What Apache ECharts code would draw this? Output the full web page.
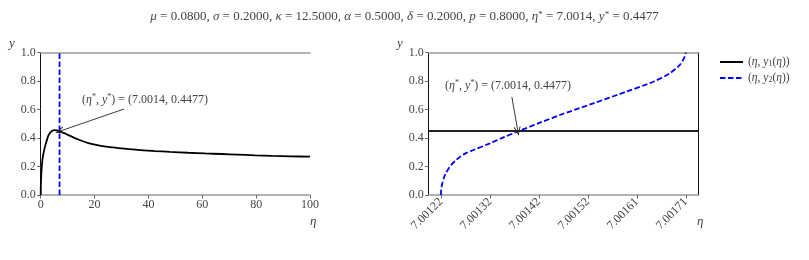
<!DOCTYPE html>
<html>
<head>
<meta charset="utf-8">
<script src="https://cdn.jsdelivr.net/npm/echarts@6/dist/echarts.min.js"></script>
<style>html,body{margin:0;padding:0;background:#fff;}#c{width:809px;height:260px;}</style>
</head>
<body>
<div id="c"></div>
<script>
// ---- data ----
const y1Eta = [0, 0.1, 0.3, 0.6, 1, 1.6, 2.2, 2.8, 3.5, 4.2, 5, 6, 7.0014, 8, 9, 11.5, 14, 17.7, 21, 25, 30, 36, 42.4, 48, 54.8, 61, 67.2, 73, 79.6, 86, 93, 100];
const y1Val = [0, 0.09, 0.17, 0.24, 0.29, 0.34, 0.38, 0.415, 0.437, 0.45, 0.456, 0.454, 0.4477, 0.44, 0.432, 0.41, 0.39, 0.365, 0.35, 0.338, 0.328, 0.317, 0.309, 0.303, 0.297, 0.292, 0.288, 0.284, 0.279, 0.275, 0.272, 0.269];
const y2Eta = [7.001222, 7.0012224, 7.0012246, 7.00123, 7.00124, 7.00125, 7.00126, 7.001272, 7.001287, 7.00132, 7.001347, 7.001377, 7.00142, 7.00146, 7.001527, 7.001593, 7.001647, 7.00168, 7.0017, 7.00171, 7.001712];
const y2Val = [0, 0.035, 0.08, 0.14, 0.2, 0.238, 0.268, 0.294, 0.316, 0.363, 0.405, 0.448, 0.508, 0.562, 0.644, 0.726, 0.796, 0.855, 0.914, 0.972, 1.0];
const etaStar = 7.001376;
const yStar = 0.4477;
const xTicks1 = [0, 20, 40, 60, 80, 100];
const yTicks = [0, 0.2, 0.4, 0.6, 0.8, 1.0];
const xTicks2 = [7.001222, 7.00132, 7.001418, 7.001516, 7.001614, 7.001712];
const xTickLabels2 = ['7.00122', '7.00132', '7.00142', '7.00152', '7.00161', '7.00171'];
const params = [['μ', '0.0800'], ['σ', '0.2000'], ['κ', '12.5000'], ['α', '0.5000'], ['δ', '0.2000'], ['p', '0.8000'], ['η*', '7.0014'], ['y*', '0.4477']];
const annTail1 = [30.9, 0.604];
const annTail2 = [7.001364, 0.689];

// ---- layout ----
const FONT = 'Liberation Serif';
const TXT = '#444';
const G1 = {left: 40.7, top: 52.7, width: 269.3, height: 142.3};
const G2 = {left: 428.7, top: 52.7, width: 269.3, height: 142.3};

const a2 = Math.min(...y2Eta), b2 = Math.max(...y2Eta);
const pad2 = 0.05 * (b2 - a2);

const y1Data = y1Eta.map((e, i) => [e, y1Val[i]]);
const y2Data = y2Eta.map((e, i) => [e, y2Val[i]]);

const titleText = params.map(p => {
  const v = p[0];
  const name = v.endsWith('*') ? '{i|' + v.slice(0, -1) + '}{sup|*}' : '{i|' + v + '}';
  return name + ' = ' + p[1];
}).join(', ');

const annText = '({i|η}{sup|*}, {i|y}{sup|*}) = (' + etaStar.toFixed(4) + ', ' + yStar.toFixed(4) + ')';
const annRich = {
  i: {fontStyle: 'italic', fontFamily: FONT, fontSize: 12, fill: TXT},
  sup: {fontFamily: FONT, fontSize: 8, fill: TXT, padding: [0, 0, 5, 0]}
};

const arrowSym = 'path://M0,10 L5,0 L10,10 L8.6,10 L5,2.8 L1.4,10 Z';

function yAxisMain(gi) {
  return {
    type: 'value', gridIndex: gi, min: 0, max: 1, interval: 0.2,
    axisLine: {show: true, lineStyle: {color: '#111', width: 1}},
    axisTick: {show: true, length: 3.5, lineStyle: {color: '#666'}},
    axisLabel: {color: TXT, fontFamily: FONT, fontSize: 12, margin: 5, formatter: v => v.toFixed(1)},
    splitLine: {show: false}
  };
}
function yAxisRight(gi) {
  return {
    type: 'value', gridIndex: gi, min: 0, max: 1, position: 'right',
    axisLine: {show: true, lineStyle: {color: '#111', width: 1}},
    axisTick: {show: false}, axisLabel: {show: false}, splitLine: {show: false}
  };
}
function xAxisTop(gi, mn, mx) {
  return {
    type: 'value', gridIndex: gi, min: mn, max: mx, position: 'top',
    axisLine: {show: true, onZero: false, lineStyle: {color: '#999', width: 1.6}},
    axisTick: {show: false}, axisLabel: {show: false}, splitLine: {show: false}
  };
}

const option = {
  animation: false,
  backgroundColor: '#fff',
  title: {
    text: titleText, left: 'center', top: 5,
    textStyle: {fontFamily: FONT, fontSize: 13, fontWeight: 'normal', color: TXT,
      rich: {i: {fontStyle: 'italic', fontFamily: FONT, fontSize: 13, color: TXT},
             sup: {fontSize: 9, fontFamily: FONT, color: TXT, padding: [0, 0, 5, 0]}}}
  },
  legend: {
    left: 714, top: 51, orient: 'vertical', itemWidth: 23, itemHeight: 10, itemGap: 4,
    data: ['y1', 'y2'],
    itemStyle: {opacity: 0},
    formatter: n => '({i|η}, {i|y}{s|' + n.slice(1) + '}({i|η}))',
    textStyle: {fontFamily: FONT, fontSize: 11.5, color: TXT,
      rich: {i: {fontStyle: 'italic', fontFamily: FONT, fontSize: 11.5, color: TXT},
             s: {fontFamily: FONT, fontSize: 8, color: TXT, padding: [4, 0, 0, 0]}}}
  },
  grid: [
    Object.assign({containLabel: false}, G1),
    Object.assign({containLabel: false}, G2)
  ],
  xAxis: [
    {
      type: 'value', gridIndex: 0, min: 0, max: 100, interval: 20,
      axisLine: {show: true, onZero: false, lineStyle: {color: '#999', width: 1.6}},
      axisTick: {show: true, length: 3.5, lineStyle: {color: '#666'}},
      axisLabel: {color: TXT, fontFamily: FONT, fontSize: 12, margin: 4},
      splitLine: {show: false}
    },
    {
      type: 'value', gridIndex: 1, min: a2 - pad2, max: b2 + pad2,
      axisLine: {show: true, onZero: false, lineStyle: {color: '#999', width: 1.6}},
      axisTick: {show: true, length: 3.5, lineStyle: {color: '#666'}, customValues: xTicks2},
      axisLabel: {color: TXT, fontFamily: FONT, fontSize: 12, margin: 5, rotate: 45,
        customValues: xTicks2,
        formatter: (v) => { const k = xTicks2.findIndex(t => Math.abs(t - v) < 1e-9); return k >= 0 ? xTickLabels2[k] : ''; }},
      splitLine: {show: false}
    },
    xAxisTop(0, 0, 100),
    xAxisTop(1, a2 - pad2, b2 + pad2)
  ],
  yAxis: [yAxisMain(0), yAxisMain(1), yAxisRight(0), yAxisRight(1)],
  series: [
    {
      name: 'y1', type: 'line', xAxisIndex: 0, yAxisIndex: 0, data: y1Data,
      showSymbol: false, symbol: 'none', smooth: 0.3,
      lineStyle: {color: '#000', width: 1.8}, itemStyle: {color: '#000'},
      markLine: {
        silent: true, animation: false,
        lineStyle: {color: '#222', width: 0.9, type: 'solid'},
        label: {show: false},
        data: [[{coord: annTail1, symbol: 'none'}, {coord: [etaStar, yStar], symbol: arrowSym, symbolSize: [7, 9]}]]
      }
    },
    {
      name: 'y2', type: 'line', xAxisIndex: 0, yAxisIndex: 0, data: y2Data,
      showSymbol: false, symbol: 'none',
      lineStyle: {color: '#0000ff', width: 1.8, type: [5.5, 2.5]}, itemStyle: {color: '#0000ff'}
    },
    {
      name: 'y1', type: 'line', xAxisIndex: 1, yAxisIndex: 1, data: [],
      showSymbol: false, symbol: 'none',
      lineStyle: {color: '#000', width: 1.8}, itemStyle: {color: '#000'},
      markLine: {
        silent: true, animation: false, symbol: 'none',
        label: {show: false},
        data: [
          {yAxis: yStar, lineStyle: {color: '#222', width: 2, type: 'solid'}},
          [{coord: annTail2, symbol: 'none', lineStyle: {color: '#222', width: 0.9, type: 'solid'}},
           {coord: [etaStar, yStar], symbol: arrowSym, symbolSize: [7, 9]}]
        ]
      }
    },
    {
      name: 'y2', type: 'line', xAxisIndex: 1, yAxisIndex: 1, data: y2Data,
      showSymbol: false, symbol: 'none', smooth: 0.3,
      lineStyle: {color: '#0000ff', width: 1.8, type: [5.5, 2.5]}, itemStyle: {color: '#0000ff'}
    }
  ],
  graphic: [
    {type: 'text', left: 9, top: 37, style: {text: 'y', font: 'italic 13px "Liberation Serif"', fill: TXT}},
    {type: 'text', left: 397, top: 37, style: {text: 'y', font: 'italic 13px "Liberation Serif"', fill: TXT}},
    {type: 'text', left: 310, top: 215, style: {text: 'η', font: 'italic 13px "Liberation Serif"', fill: TXT}},
    {type: 'text', left: 697, top: 215, style: {text: 'η', font: 'italic 13px "Liberation Serif"', fill: TXT}},
    {type: 'text', left: 82, top: 93, style: {text: annText, font: '12px "Liberation Serif"', fill: TXT, rich: annRich}},
    {type: 'text', left: 445, top: 79, style: {text: annText, font: '12px "Liberation Serif"', fill: TXT, rich: annRich}}
  ]
};

const chart = echarts.init(document.getElementById('c'), null, {renderer: 'canvas'});
chart.setOption(option);
</script>
</body>
</html>
